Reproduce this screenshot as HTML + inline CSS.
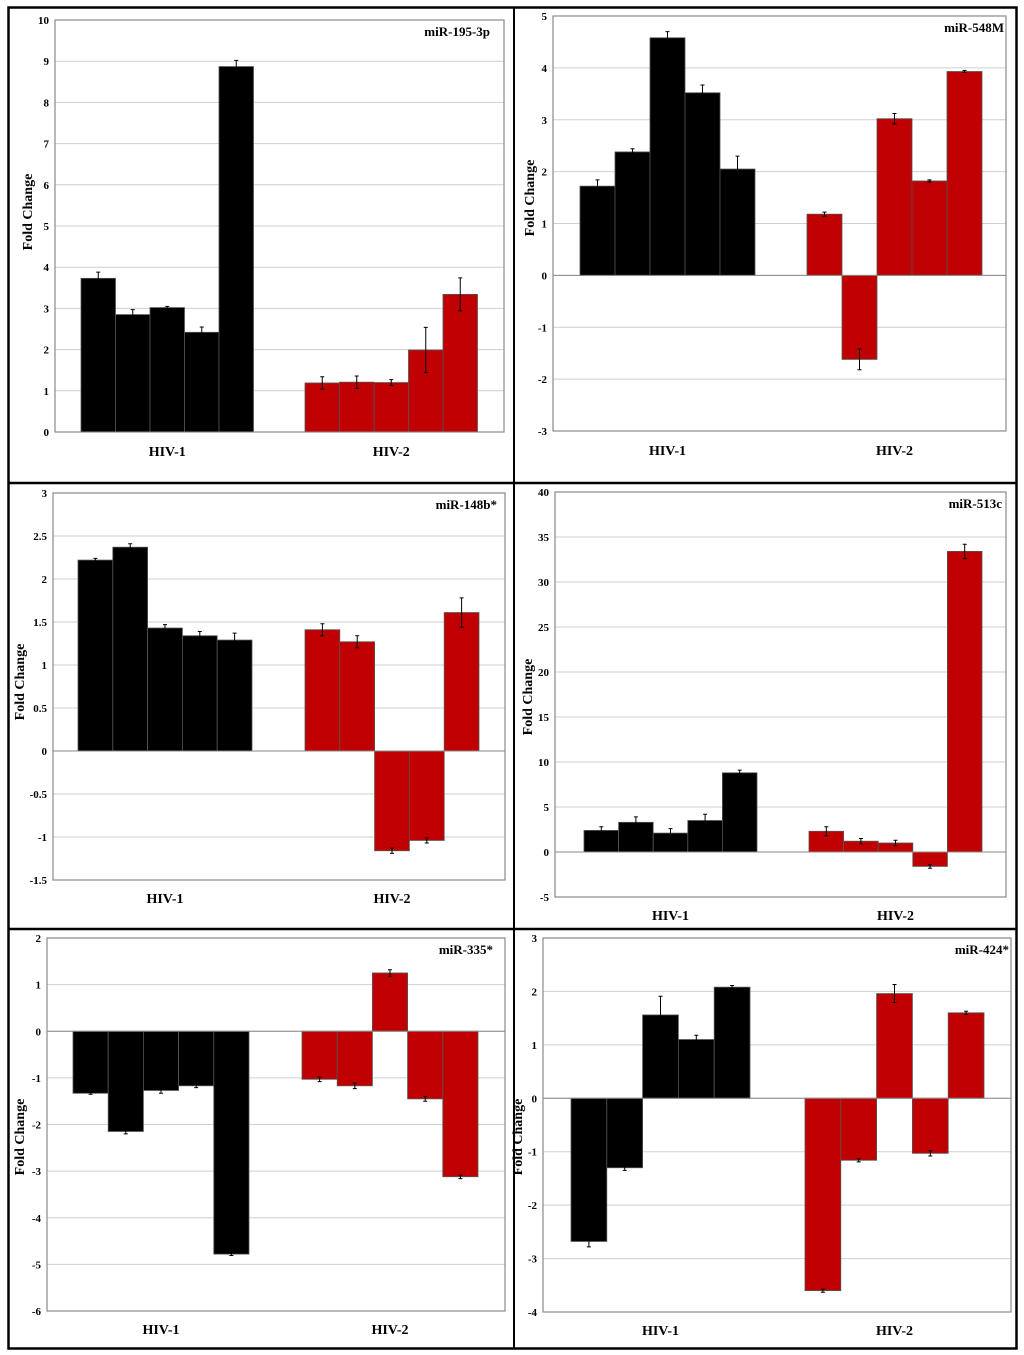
<!DOCTYPE html>
<html><head><meta charset="utf-8"><style>
body{margin:0;background:#fff}
svg{display:block;font-family:"Liberation Serif",serif;font-weight:bold}
</style></head><body>
<svg id="c" width="1024" height="1355" viewBox="0 0 1024 1355" xmlns="http://www.w3.org/2000/svg">
<rect x="8.5" y="7.5" width="1008" height="1341" fill="none" stroke="#000" stroke-width="2.5"/>
<line x1="8" y1="483" x2="1017" y2="483" stroke="#000" stroke-width="2.5"/>
<line x1="8" y1="929" x2="1017" y2="929" stroke="#000" stroke-width="2.5"/>
<line x1="514" y1="7" x2="514" y2="1349" stroke="#000" stroke-width="2"/>
</svg>
<script>
const titles=["miR-195-3p","miR-548M","miR-148b*","miR-513c","miR-335*","miR-424*"];
const hiv1Values=[[3.73,2.85,3.02,2.42,8.87],[1.72,2.38,4.58,3.52,2.05],[2.22,2.37,1.43,1.34,1.29],[2.4,3.3,2.1,3.5,8.8],[-1.33,-2.15,-1.27,-1.17,-4.78],[-2.68,-1.3,1.56,1.1,2.08]];
const hiv2Values=[[1.19,1.21,1.2,1.99,3.34],[1.18,-1.62,3.02,1.82,3.93],[1.41,1.27,-1.16,-1.04,1.61],[2.3,1.2,1.0,-1.6,33.4],[-1.03,-1.17,1.25,-1.45,-3.12],[-3.6,-1.16,1.96,-1.03,1.6]];
const hiv1Errors=[[0.15,0.12,0.03,0.13,0.15],[0.12,0.06,0.12,0.15,0.25],[0.02,0.04,0.04,0.05,0.08],[0.4,0.6,0.5,0.7,0.3],[0.02,0.05,0.06,0.04,0.03],[0.1,0.05,0.35,0.08,0.03]];
const hiv2Errors=[[0.15,0.15,0.07,0.55,0.4],[0.04,0.2,0.1,0.02,0.02],[0.07,0.07,0.03,0.03,0.17],[0.5,0.3,0.3,0.2,0.8],[0.05,0.06,0.07,0.05,0.04],[0.03,0.03,0.17,0.05,0.03]];
const yMin=[0,-3,-1.5,-5,-6,-4];
const yMax=[10,5,3,40,2,3];
const yStep=[1,1,0.5,5,1,1];
const groupLabels=["HIV-1","HIV-2"];
// layout (not data)
const L=[
 {x0:55,x1:504,yT:20,yB:432,b1:81,b2:305,bw:34.5,ly:456,ax:32,ay:212,tx:490},
 {x0:553,x1:1006,yT:16,yB:431,b1:580,b2:807,bw:35,ly:455,ax:534,ay:198,tx:1004},
 {x0:53,x1:505,yT:493,yB:880,b1:78,b2:305,bw:34.8,ly:903,ax:24,ay:682,tx:497},
 {x0:555,x1:1006,yT:492,yB:897,b1:584,b2:809,bw:34.6,ly:920,ax:532,ay:697,tx:1002},
 {x0:47,x1:505,yT:938,yB:1311,b1:73,b2:302,bw:35.2,ly:1334,ax:24,ay:1137,tx:493},
 {x0:543,x1:1011,yT:938,yB:1312,b1:571,b2:805,bw:35.8,ly:1335,ax:522,ay:1137,tx:1009}
];
const svg=document.getElementById('c');
const NS="http://www.w3.org/2000/svg";
function mk(t,a,p){const e=document.createElementNS(NS,t);for(const k in a)e.setAttribute(k,a[k]);(p||svg).appendChild(e);return e;}
for(let i=0;i<6;i++){
 const l=L[i];
 const g=mk('g',{});
 
 
 const y=v=>l.yB-(v-yMin[i])/(yMax[i]-yMin[i])*(l.yB-l.yT);
 for(let v=yMin[i];v<=yMax[i]+1e-9;v+=yStep[i]){
  const gl=mk('line',{x1:l.x0,x2:l.x1,y1:y(v),y2:y(v),stroke:'#cfcfcf','stroke-width':1},g);
  
  
  const tl=mk('text',{x:l.x0-6,y:y(v)+4,'text-anchor':'end','font-size':11},g);
  
  
  tl.textContent=String(Math.round(v*10)/10);
 }
 const fr=mk('rect',{x:l.x0,y:l.yT,width:l.x1-l.x0,height:l.yB-l.yT,fill:'none',stroke:'#8a8a8a','stroke-width':1.2},g);
 
 
 const sets=[[hiv1Values[i],hiv1Errors[i],l.b1,'#000'],[hiv2Values[i],hiv2Errors[i],l.b2,'#c00000']];
 sets.forEach((s,gi)=>{
  s[0].forEach((v,j)=>{
   const x=s[2]+j*l.bw;
   const r=mk('rect',{x:x,y:Math.min(y(v),y(0)),width:l.bw,height:Math.abs(y(v)-y(0)),fill:s[3],stroke:'#555','stroke-width':0.8},g);
   
   
   const cx=x+l.bw/2,e=s[1][j];
   const eb=mk('path',{d:`M${cx},${y(v-e)}V${y(v+e)}M${cx-2},${y(v-e)}h4M${cx-2},${y(v+e)}h4`,stroke:'#000','stroke-width':1,fill:'none'},g);
   
   
  });
  const gl=mk('text',{x:s[2]+2.5*l.bw,y:l.ly,'text-anchor':'middle','font-size':14},g);
  
  
  gl.textContent=groupLabels[gi];
 });
 const zl=mk('line',{x1:l.x0,x2:l.x1,y1:y(0),y2:y(0),stroke:'#888','stroke-width':1},g);
 
 
 const t=mk('text',{x:l.tx,y:l.yT+16,'text-anchor':'end','font-size':13},g);
 
 
 t.textContent=titles[i];
 const a=mk('text',{x:l.ax,y:l.ay,'text-anchor':'middle','font-size':14,transform:`rotate(-90 ${l.ax} ${l.ay})`},g);
 
 
 a.textContent='Fold Change';
}
</script>
</body></html>
